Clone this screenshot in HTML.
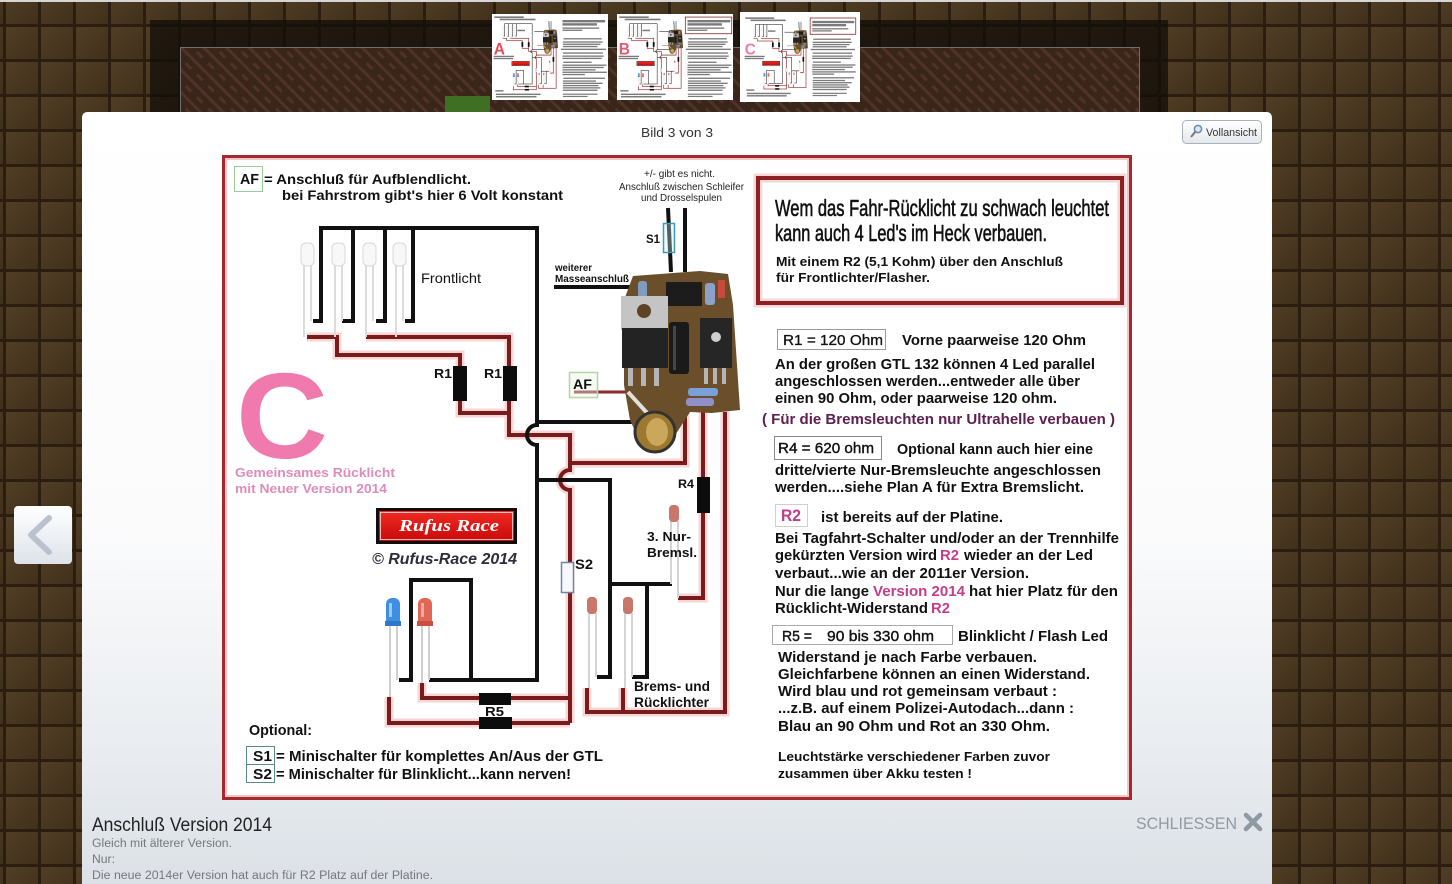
<!DOCTYPE html>
<html><head><meta charset="utf-8">
<style>
html,body{margin:0;padding:0;width:1452px;height:884px;overflow:hidden;background:#3f2e1a}
svg{display:block}
text{font-family:"Liberation Sans",Arial,sans-serif}
.b{font-weight:bold}
</style></head><body>
<svg width="1452" height="884" viewBox="0 0 1452 884" xmlns="http://www.w3.org/2000/svg">
<defs>
 <linearGradient id="tg" x1="0" y1="0" x2="1" y2="1">
  <stop offset="0" stop-color="#523e25"/><stop offset="1" stop-color="#40301b"/>
 </linearGradient>
 <pattern id="tiles" x="4" y="25" width="35" height="35" patternUnits="userSpaceOnUse">
  <rect width="35" height="35" fill="#2b1e10"/>
  <rect x="2" y="2" width="32" height="32" fill="url(#tg)"/>
 </pattern>
 <pattern id="weave" width="16" height="16" patternUnits="userSpaceOnUse" patternTransform="rotate(45)">
  <rect width="16" height="16" fill="#3a251b"/>
  <rect width="16" height="3" fill="#4f3326"/>
  <rect x="0" y="8" width="8" height="3" fill="#4f3326"/>
 </pattern>
 <linearGradient id="modalg" x1="0" y1="112" x2="0" y2="884" gradientUnits="userSpaceOnUse">
  <stop offset="0" stop-color="#ffffff"/>
  <stop offset="0.55" stop-color="#fbfbfc"/>
  <stop offset="0.85" stop-color="#e7ebef"/>
  <stop offset="1" stop-color="#dce1e7"/>
 </linearGradient>
 <linearGradient id="btng" x1="0" y1="0" x2="0" y2="1">
  <stop offset="0" stop-color="#ffffff"/><stop offset="1" stop-color="#dde3ea"/>
 </linearGradient>
 <linearGradient id="vbtn" x1="0" y1="0" x2="0" y2="1">
  <stop offset="0" stop-color="#ffffff"/><stop offset="1" stop-color="#e4e8ec"/>
 </linearGradient>
 <linearGradient id="logog" x1="0" y1="0" x2="0" y2="1">
  <stop offset="0" stop-color="#f02a22"/><stop offset="1" stop-color="#c80a0a"/>
 </linearGradient>

 <g id="wires">
  <g fill="none" stroke="#f3b3b3" stroke-width="9" opacity="0.55">
   <path d="M307,337 H337 V355 H460 V370"/>
   <path d="M366,337 H509 V370"/>
   <path d="M460,398 V413 H509"/>
   <path d="M509,398 V435 H570 V463 H685 V412"/>
   <path d="M570,463 V470 A10,10 0 0 0 570,490 V723"/>
   <path d="M422,683 V698 H570"/>
   <path d="M389,697 V723 H570"/>
   <path d="M703,412 V598 H678"/>
   <path d="M725,412 V712 H587 V688"/>
   <path d="M623,712 V688"/>
  </g>
  <g fill="none" stroke="#7a1b1b" stroke-width="4">
   <path d="M307,337 H337 V355 H460 V370"/>
   <path d="M366,337 H509 V370"/>
   <path d="M460,398 V413 H509"/>
   <path d="M509,398 V435 H570 V463 H685 V412"/>
   <path d="M570,463 V470 A10,10 0 0 0 570,490 V723"/>
   <path d="M422,683 V698 H570"/>
   <path d="M389,697 V723 H570"/>
   <path d="M703,412 V598 H678"/>
   <path d="M725,412 V712 H587 V688"/>
   <path d="M623,712 V688"/>
  </g>
  <path d="M574,392 H632" stroke="#8a2a2a" stroke-width="3" fill="none"/>
  <g fill="none" stroke="#111" stroke-width="4">
   <path d="M313,321 H321 V228 H537 V425 A10,10 0 0 0 537,445 V680 H429"/>
   <path d="M353,228 V321 H342"/>
   <path d="M385,228 V321 H376"/>
   <path d="M413,228 V321 H405"/>
   <path d="M537,422 H635"/>
   <path d="M537,480 H610 V677 H597"/>
   <path d="M610,584 H672"/>
   <path d="M647,584 V677 H632"/>
   <path d="M399,680 H411 V580 H471 V680"/>
   <path d="M668,208 L671,272"/>
   <path d="M685,208 V272"/>
   <path d="M554,287 H630"/>
  </g>
  <g stroke="#dcdcdc" stroke-width="2" fill="none">
   <line x1="304" y1="265" x2="304" y2="337"/><line x1="311" y1="265" x2="311" y2="321"/>
   <line x1="335" y1="265" x2="335" y2="337"/><line x1="342" y1="265" x2="342" y2="321"/>
   <line x1="366" y1="265" x2="366" y2="337"/><line x1="373" y1="265" x2="373" y2="321"/>
   <line x1="396" y1="265" x2="396" y2="337"/><line x1="403" y1="265" x2="403" y2="321"/>
  </g>
  <g fill="#f8f8f8" stroke="#d8d8d8" stroke-width="1">
   <rect x="301" y="243" width="13" height="23" rx="5"/>
   <rect x="332" y="243" width="13" height="23" rx="5"/>
   <rect x="363" y="243" width="13" height="23" rx="5"/>
   <rect x="393" y="243" width="13" height="23" rx="5"/>
  </g>
  <g stroke="#cfcfcf" stroke-width="2">
   <line x1="390" y1="625" x2="390" y2="697"/><line x1="397" y1="625" x2="397" y2="680"/>
   <line x1="422" y1="625" x2="422" y2="683"/><line x1="429" y1="625" x2="429" y2="680"/>
  </g>
  <rect x="386" y="598" width="14" height="28" rx="6" fill="#3d8fe3"/>
  <rect x="385" y="621" width="16" height="5" fill="#2f78c8"/>
  <rect x="389" y="603" width="3" height="14" fill="#9ccaf5"/>
  <rect x="418" y="598" width="14" height="28" rx="6" fill="#e06655"/>
  <rect x="417" y="621" width="16" height="5" fill="#c9503f"/>
  <rect x="421" y="603" width="3" height="14" fill="#f4aba0"/>
  <g stroke="#d4d4d4" stroke-width="2">
   <line x1="589" y1="613" x2="589" y2="688"/><line x1="596" y1="613" x2="596" y2="677"/>
   <line x1="625" y1="613" x2="625" y2="688"/><line x1="632" y1="613" x2="632" y2="677"/>
   <line x1="671" y1="521" x2="671" y2="584"/><line x1="678" y1="521" x2="678" y2="598"/>
  </g>
  <rect x="587" y="597" width="10" height="17" rx="4" fill="#c9776b"/>
  <rect x="623" y="597" width="10" height="17" rx="4" fill="#c9776b"/>
  <rect x="669" y="505" width="10" height="17" rx="4" fill="#c9776b"/>
  <g fill="#0c0c0c">
   <rect x="453" y="366" width="14" height="35"/>
   <rect x="503" y="366" width="14" height="35"/>
   <rect x="697" y="477" width="13" height="36"/>
   <rect x="479" y="693" width="32" height="12"/>
   <rect x="479" y="717" width="33" height="12"/>
  </g>
  <!-- board -->
  <path d="M633,276 L700,271 L728,274 L733,305 L740,410 L712,413 L690,412 L672,440 L642,446 L630,420 L624,385 L624,300 Z" fill="#6a4f2a"/>
  <rect x="666" y="282" width="36" height="24" fill="#1c1c1c"/>
  <rect x="638" y="281" width="9" height="20" rx="3" fill="#7f9cc0"/>
  <rect x="705" y="283" width="10" height="22" rx="3" fill="#8da0c8"/>
  <rect x="718" y="280" width="7" height="18" fill="#c84a3a"/>
  <path d="M621,296 H668 V330 H621 Z" fill="#c4c4c4"/>
  <circle cx="644" cy="311" r="7" fill="#5e4226"/>
  <rect x="622" y="328" width="46" height="40" fill="#232323"/>
  <rect x="628" y="368" width="5" height="18" fill="#b5b5b5"/>
  <rect x="641" y="368" width="5" height="18" fill="#b5b5b5"/>
  <rect x="654" y="368" width="5" height="18" fill="#b5b5b5"/>
  <rect x="669" y="322" width="20" height="52" rx="3" fill="#1a1a1a"/>
  <rect x="673" y="326" width="3" height="44" fill="#454545"/>
  <rect x="700" y="318" width="32" height="50" fill="#262626"/>
  <circle cx="716" cy="337" r="5" fill="#cfcfcf"/>
  <rect x="704" y="368" width="4" height="16" fill="#b5b5b5"/>
  <rect x="713" y="368" width="4" height="16" fill="#b5b5b5"/>
  <rect x="722" y="368" width="4" height="16" fill="#b5b5b5"/>
  <rect x="688" y="388" width="30" height="8" rx="3" fill="#7aa0d8"/>
  <rect x="686" y="398" width="28" height="8" rx="3" fill="#9090c8"/>
  <line x1="628" y1="392" x2="648" y2="414" stroke="#e0e0e0" stroke-width="4"/>
  <circle cx="655" cy="432" r="20" fill="#9c7830" stroke="#333" stroke-width="3"/>
  <ellipse cx="657" cy="432" rx="11" ry="14" fill="#caa75a"/>
  <rect x="663.5" y="223.5" width="11" height="29" fill="rgba(210,240,248,0.35)" stroke="#3d9cb5" stroke-width="1.5"/>
  <rect x="561.5" y="562.5" width="12" height="30" fill="#f6f8fb" stroke="#6f86a8" stroke-width="1.5"/>
  <rect x="376" y="508" width="141" height="36" fill="#0e0e0e"/>
  <rect x="379" y="511" width="135" height="30" fill="url(#logog)"/>
  <rect x="380.5" y="512.5" width="132" height="27" fill="none" stroke="#ffdede" stroke-width="0.8"/>
 </g>

 <g id="bars" fill="#7a7a7a">
  <rect x="240" y="173" width="231" height="12"/><rect x="282" y="190" width="281" height="12"/>
  <rect x="421" y="273" width="60" height="11"/>
  <rect x="235" y="468" width="160" height="10"/><rect x="235" y="484" width="152" height="10"/>
  <rect x="248" y="726" width="64" height="11"/><rect x="253" y="752" width="350" height="11"/><rect x="253" y="770" width="318" height="11"/>
  <rect x="775" y="200" width="335" height="18"/><rect x="775" y="224" width="270" height="18"/>
  <rect x="775" y="256" width="288" height="10"/><rect x="775" y="272" width="155" height="10"/>
  <rect x="783" y="336" width="300" height="10"/><rect x="778" y="360" width="312" height="10"/>
  <rect x="778" y="377" width="295" height="10"/><rect x="778" y="394" width="272" height="10"/>
  <rect x="762" y="415" width="354" height="10"/><rect x="778" y="443" width="314" height="10"/>
  <rect x="775" y="466" width="323" height="10"/><rect x="775" y="483" width="308" height="10"/>
  <rect x="781" y="512" width="222" height="10"/><rect x="775" y="534" width="345" height="10"/>
  <rect x="775" y="551" width="323" height="10"/><rect x="775" y="569" width="260" height="10"/>
  <rect x="775" y="587" width="348" height="10"/><rect x="775" y="604" width="175" height="10"/>
  <rect x="782" y="632" width="326" height="10"/><rect x="778" y="653" width="259" height="10"/>
  <rect x="778" y="670" width="312" height="10"/><rect x="778" y="687" width="279" height="10"/>
  <rect x="778" y="704" width="295" height="10"/><rect x="778" y="722" width="272" height="10"/>
  <rect x="778" y="752" width="272" height="9"/><rect x="778" y="769" width="194" height="9"/>
 </g>
</defs>

<rect x="0" y="0" width="1452" height="884" fill="url(#tiles)"/>
<rect x="0" y="0" width="1452" height="2" fill="#d6d6d6"/>
<rect x="150" y="20" width="1018" height="92" fill="#120d08" opacity="0.75"/>
<rect x="180" y="47" width="960" height="65" fill="url(#weave)"/>
<rect x="180.5" y="47.5" width="959" height="70" fill="none" stroke="#6e6e6e" stroke-width="1"/>
<rect x="445" y="96" width="45" height="16" fill="#3f6f23"/>

<rect x="492" y="14" width="116" height="86" fill="#fff"/>
<g transform="translate(492,14) scale(0.12747,0.13333) translate(-222,-155)">
 <use href="#wires"/><use href="#bars"/>
 <text x="236" y="458" font-size="122" class="b" fill="#e24a55">A</text>
</g>
<rect x="617" y="14" width="116" height="86" fill="#fff"/>
<g transform="translate(617,14) scale(0.12747,0.13333) translate(-222,-155)">
 <use href="#wires"/><use href="#bars"/>
 <rect x="758" y="178" width="364" height="125" fill="none" stroke="#8c2023" stroke-width="6"/>
 <text x="236" y="458" font-size="122" class="b" fill="#e45a70">B</text>
</g>
<rect x="740" y="12" width="120" height="90" fill="#fff"/>
<g transform="translate(743,15) scale(0.12527,0.13023) translate(-222,-155)">
 <use href="#wires"/><use href="#bars"/>
 <rect x="758" y="178" width="364" height="125" fill="none" stroke="#8c2023" stroke-width="6"/>
 <text x="236" y="458" font-size="122" class="b" fill="#f07aad">C</text>
</g>

<path d="M82,118 Q82,112 88,112 H1266 Q1272,112 1272,118 V884 H82 Z" fill="url(#modalg)"/>
<text x="641" y="137" font-size="13" fill="#333" textLength="72" lengthAdjust="spacingAndGlyphs">Bild 3 von 3</text>
<rect x="1182.5" y="120.5" width="79" height="23" rx="4" fill="url(#vbtn)" stroke="#a9b3bf"/>
<circle cx="1198" cy="129" r="3.6" fill="#d8e6f5" stroke="#6a8ab0" stroke-width="1.5"/>
<line x1="1195.5" y1="131.5" x2="1191" y2="137" stroke="#777" stroke-width="2"/>
<text x="1206" y="136" font-size="11" fill="#333" textLength="51" lengthAdjust="spacingAndGlyphs">Vollansicht</text>

<rect x="14" y="506" width="58" height="58" rx="4" fill="url(#btng)"/>
<polyline points="49,518 31,535 49,552" fill="none" stroke="#b9c3d0" stroke-width="6" stroke-linecap="round" stroke-linejoin="round"/>

<rect x="222" y="155" width="910" height="645" fill="#fff"/>
<rect x="226" y="159" width="902" height="637" fill="none" stroke="#f2c6c6" stroke-width="2"/>
<rect x="223.5" y="156.5" width="907" height="642" fill="none" stroke="#a5292e" stroke-width="3"/>
<rect x="758" y="178" width="364" height="125" fill="none" stroke="#eba6a6" stroke-width="9" opacity="0.45"/>
<rect x="758" y="178" width="364" height="125" fill="none" stroke="#8c2023" stroke-width="4"/>
<use href="#wires"/>

<rect x="234.5" y="166.5" width="28" height="25" fill="none" stroke="#9c9" stroke-width="1"/>
<rect x="569.5" y="372.5" width="28" height="25" fill="rgba(230,245,225,0.4)" stroke="#b5d5a5" stroke-width="1.5"/>
<rect x="777.5" y="329.5" width="108" height="20" fill="none" stroke="#9a9a9a"/>
<rect x="774.5" y="436.5" width="107" height="23" fill="none" stroke="#888"/>
<rect x="775.5" y="504.5" width="32" height="22" fill="none" stroke="#cfcfcf"/>
<rect x="772.5" y="625.5" width="180" height="19" fill="none" stroke="#aaa"/>
<rect x="246.5" y="746.5" width="28" height="18" fill="none" stroke="#5a8a8a"/>
<rect x="246.5" y="764.5" width="28" height="18" fill="none" stroke="#5a8a8a"/>

<text x="240" y="184" font-size="15" class="b" fill="#111" textLength="19" lengthAdjust="spacingAndGlyphs">AF</text>
<text x="264" y="184" font-size="14" class="b" fill="#111" textLength="207" lengthAdjust="spacingAndGlyphs">= Anschluß für Aufblendlicht.</text>
<text x="282" y="200" font-size="14" class="b" fill="#111" textLength="281" lengthAdjust="spacingAndGlyphs">bei Fahrstrom gibt's hier 6 Volt konstant</text>
<text x="421" y="283" font-size="14" fill="#111" textLength="60" lengthAdjust="spacingAndGlyphs">Frontlicht</text>
<text x="434" y="378" font-size="13" class="b" fill="#111" textLength="18" lengthAdjust="spacingAndGlyphs">R1</text>
<text x="484" y="378" font-size="13" class="b" fill="#111" textLength="18" lengthAdjust="spacingAndGlyphs">R1</text>
<text x="555" y="271" font-size="10.5" class="b" fill="#111" textLength="37" lengthAdjust="spacingAndGlyphs">weiterer</text>
<text x="555" y="282" font-size="10.5" class="b" fill="#111" textLength="74" lengthAdjust="spacingAndGlyphs">Masseanschluß</text>
<text x="644" y="177" font-size="10" fill="#222" textLength="71" lengthAdjust="spacingAndGlyphs">+/- gibt es nicht.</text>
<text x="619" y="190" font-size="10" fill="#222" textLength="125" lengthAdjust="spacingAndGlyphs">Anschluß zwischen Schleifer</text>
<text x="641" y="201" font-size="10" fill="#222" textLength="81" lengthAdjust="spacingAndGlyphs">und Drosselspulen</text>
<text x="646" y="243" font-size="12" class="b" fill="#111" textLength="14" lengthAdjust="spacingAndGlyphs">S1</text>
<text x="573" y="389" font-size="14" class="b" fill="#111" textLength="19" lengthAdjust="spacingAndGlyphs">AF</text>
<text x="236" y="458" font-size="122" class="b" fill="#f07aad" textLength="92" lengthAdjust="spacingAndGlyphs">C</text>
<text x="235" y="477" font-size="13" class="b" fill="#de8cbb" textLength="160" lengthAdjust="spacingAndGlyphs">Gemeinsames Rücklicht</text>
<text x="235" y="493" font-size="13" class="b" fill="#de8cbb" textLength="152" lengthAdjust="spacingAndGlyphs">mit Neuer Version 2014</text>
<text x="399" y="531" font-size="17" font-style="italic" font-weight="bold" fill="#fff" style="font-family:'Liberation Serif',serif" textLength="100" lengthAdjust="spacingAndGlyphs">Rufus Race</text>
<text x="372" y="564" font-size="16" font-style="italic" font-weight="bold" fill="#2d2d3c" textLength="145" lengthAdjust="spacingAndGlyphs">© Rufus-Race 2014</text>
<text x="678" y="488" font-size="12" class="b" fill="#111" textLength="16" lengthAdjust="spacingAndGlyphs">R4</text>
<text x="647" y="541" font-size="13" class="b" fill="#111" textLength="44" lengthAdjust="spacingAndGlyphs">3. Nur-</text>
<text x="647" y="557" font-size="13" class="b" fill="#111" textLength="50" lengthAdjust="spacingAndGlyphs">Bremsl.</text>
<text x="575" y="569" font-size="14" class="b" fill="#111" textLength="18" lengthAdjust="spacingAndGlyphs">S2</text>
<text x="634" y="691" font-size="14" class="b" fill="#111" textLength="76" lengthAdjust="spacingAndGlyphs">Brems- und</text>
<text x="634" y="707" font-size="14" class="b" fill="#111" textLength="75" lengthAdjust="spacingAndGlyphs">Rücklichter</text>
<text x="485" y="716" font-size="13" class="b" fill="#111" textLength="19" lengthAdjust="spacingAndGlyphs">R5</text>
<text x="249" y="735" font-size="15" class="b" fill="#111" textLength="63" lengthAdjust="spacingAndGlyphs">Optional:</text>
<text x="253" y="761" font-size="15" class="b" fill="#111" textLength="19" lengthAdjust="spacingAndGlyphs">S1</text>
<text x="276" y="761" font-size="15" class="b" fill="#111" textLength="327" lengthAdjust="spacingAndGlyphs">= Minischalter für komplettes An/Aus der GTL</text>
<text x="253" y="779" font-size="15" class="b" fill="#111" textLength="19" lengthAdjust="spacingAndGlyphs">S2</text>
<text x="276" y="779" font-size="15" class="b" fill="#111" textLength="295" lengthAdjust="spacingAndGlyphs">= Minischalter für Blinklicht...kann nerven!</text>

<text x="775" y="216" font-size="23" fill="#111" stroke="#111" stroke-width="0.6" textLength="334" lengthAdjust="spacingAndGlyphs">Wem das Fahr-Rücklicht zu schwach leuchtet</text>
<text x="775" y="241" font-size="23" fill="#111" stroke="#111" stroke-width="0.6" textLength="272" lengthAdjust="spacingAndGlyphs">kann auch 4 Led's im Heck verbauen.</text>
<text x="776" y="266" font-size="13" class="b" fill="#111" textLength="287" lengthAdjust="spacingAndGlyphs">Mit einem R2 (5,1 Kohm) über den Anschluß</text>
<text x="776" y="282" font-size="13" class="b" fill="#111" textLength="154" lengthAdjust="spacingAndGlyphs">für Frontlichter/Flasher.</text>
<text x="783" y="345" font-size="15" fill="#111" stroke="#111" stroke-width="0.3" textLength="100" lengthAdjust="spacingAndGlyphs">R1 =  120 Ohm</text>
<text x="902" y="345" font-size="15" class="b" fill="#111" textLength="184" lengthAdjust="spacingAndGlyphs">Vorne paarweise 120 Ohm</text>
<text x="775" y="369" font-size="15" class="b" fill="#111" textLength="320" lengthAdjust="spacingAndGlyphs">An der großen GTL 132 können 4 Led parallel</text>
<text x="775" y="386" font-size="15" class="b" fill="#111" textLength="305" lengthAdjust="spacingAndGlyphs">angeschlossen werden...entweder alle über</text>
<text x="775" y="403" font-size="15" class="b" fill="#111" textLength="282" lengthAdjust="spacingAndGlyphs">einen 90 Ohm, oder paarweise 120 ohm.</text>
<text x="762" y="424" font-size="15" class="b" fill="#5f2050" textLength="353" lengthAdjust="spacingAndGlyphs">( Für die Bremsleuchten nur Ultrahelle verbauen )</text>
<text x="778" y="453" font-size="15" fill="#111" stroke="#111" stroke-width="0.4" textLength="96" lengthAdjust="spacingAndGlyphs">R4 = 620 ohm</text>
<text x="897" y="454" font-size="15" class="b" fill="#111" textLength="196" lengthAdjust="spacingAndGlyphs">Optional kann auch hier eine</text>
<text x="775" y="475" font-size="15" class="b" fill="#111" textLength="326" lengthAdjust="spacingAndGlyphs">dritte/vierte Nur-Bremsleuchte angeschlossen</text>
<text x="775" y="492" font-size="15" class="b" fill="#111" textLength="309" lengthAdjust="spacingAndGlyphs">werden....siehe Plan A für Extra Bremslicht.</text>
<text x="781" y="521" font-size="17" class="b" fill="#c23a8a" textLength="20" lengthAdjust="spacingAndGlyphs">R2</text>
<text x="821" y="522" font-size="15" class="b" fill="#111" textLength="182" lengthAdjust="spacingAndGlyphs">ist bereits auf der Platine.</text>
<text x="775" y="543" font-size="15" class="b" fill="#111" textLength="344" lengthAdjust="spacingAndGlyphs">Bei Tagfahrt-Schalter und/oder an der Trennhilfe</text>
<text x="775" y="560" font-size="15" class="b" fill="#111" textLength="162" lengthAdjust="spacingAndGlyphs">gekürzten Version wird</text>
<text x="940" y="560" font-size="15" class="b" fill="#c43c8c" textLength="19" lengthAdjust="spacingAndGlyphs">R2</text>
<text x="964" y="560" font-size="15" class="b" fill="#111" textLength="129" lengthAdjust="spacingAndGlyphs">wieder an der Led</text>
<text x="775" y="578" font-size="15" class="b" fill="#111" textLength="254" lengthAdjust="spacingAndGlyphs">verbaut...wie an der 2011er Version.</text>
<text x="775" y="596" font-size="15" class="b" fill="#111" textLength="94" lengthAdjust="spacingAndGlyphs">Nur die lange</text>
<text x="873" y="596" font-size="15" class="b" fill="#c43c8c" textLength="92" lengthAdjust="spacingAndGlyphs">Version 2014</text>
<text x="969" y="596" font-size="15" class="b" fill="#111" textLength="149" lengthAdjust="spacingAndGlyphs">hat hier Platz für den</text>
<text x="775" y="613" font-size="15" class="b" fill="#111" textLength="153" lengthAdjust="spacingAndGlyphs">Rücklicht-Widerstand</text>
<text x="931" y="613" font-size="15" class="b" fill="#c43c8c" textLength="19" lengthAdjust="spacingAndGlyphs">R2</text>
<text x="782" y="641" font-size="15" fill="#111" stroke="#111" stroke-width="0.4" textLength="30" lengthAdjust="spacingAndGlyphs">R5 =</text>
<text x="827" y="641" font-size="15" fill="#111" stroke="#111" stroke-width="0.4" textLength="107" lengthAdjust="spacingAndGlyphs">90 bis 330 ohm</text>
<text x="958" y="641" font-size="15" class="b" fill="#111" textLength="150" lengthAdjust="spacingAndGlyphs">Blinklicht / Flash Led</text>
<text x="778" y="662" font-size="15" class="b" fill="#111" textLength="259" lengthAdjust="spacingAndGlyphs">Widerstand je nach Farbe verbauen.</text>
<text x="778" y="679" font-size="15" class="b" fill="#111" textLength="312" lengthAdjust="spacingAndGlyphs">Gleichfarbene können an einen Widerstand.</text>
<text x="778" y="696" font-size="15" class="b" fill="#111" textLength="279" lengthAdjust="spacingAndGlyphs">Wird blau und rot gemeinsam verbaut :</text>
<text x="778" y="713" font-size="15" class="b" fill="#111" textLength="296" lengthAdjust="spacingAndGlyphs">...z.B. auf einem Polizei-Autodach...dann :</text>
<text x="778" y="731" font-size="15" class="b" fill="#111" textLength="272" lengthAdjust="spacingAndGlyphs">Blau an 90 Ohm und  Rot an 330 Ohm.</text>
<text x="778" y="761" font-size="13" class="b" fill="#111" textLength="272" lengthAdjust="spacingAndGlyphs">Leuchtstärke verschiedener Farben zuvor</text>
<text x="778" y="778" font-size="13" class="b" fill="#111" textLength="194" lengthAdjust="spacingAndGlyphs">zusammen über Akku testen !</text>

<text x="92" y="831" font-size="19" fill="#222" textLength="180" lengthAdjust="spacingAndGlyphs">Anschluß Version 2014</text>
<text x="92" y="847" font-size="11.5" fill="#777" textLength="140" lengthAdjust="spacingAndGlyphs">Gleich mit älterer Version.</text>
<text x="92" y="863" font-size="11.5" fill="#777" textLength="23" lengthAdjust="spacingAndGlyphs">Nur:</text>
<text x="92" y="879" font-size="11.5" fill="#777" textLength="341" lengthAdjust="spacingAndGlyphs">Die neue 2014er Version hat auch für R2 Platz auf der Platine.</text>
<text x="1136" y="829" font-size="17" fill="#8f99a4" textLength="101" lengthAdjust="spacingAndGlyphs">SCHLIESSEN</text>
<g stroke="#8f99a4" stroke-width="4.5" stroke-linecap="round">
 <line x1="1246" y1="815" x2="1260" y2="829"/><line x1="1260" y1="815" x2="1246" y2="829"/>
</g>
</svg>
</body></html>
